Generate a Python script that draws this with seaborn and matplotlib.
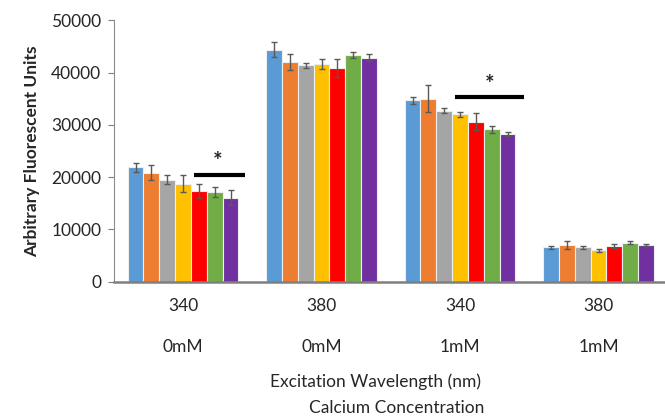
import pandas as pd
import matplotlib
matplotlib.use("Agg")
import matplotlib.pyplot as plt
import seaborn as sns

# categories (excitation wavelength / calcium concentration)
wavelengths = ["340", "380", "340", "380"]
calcium = ["0mM", "0mM", "1mM", "1mM"]
samples = ["S1", "S2", "S3", "S4", "S5", "S6", "S7"]

# mean fluorescence per sample, one list per condition
vals_340_0 = [21900, 20900, 19500, 18750, 17300, 17100, 16050]
vals_380_0 = [44400, 42000, 41450, 41650, 40850, 43450, 42900]
vals_340_1 = [34700, 35050, 32750, 32050, 30650, 29150, 28250]
vals_380_1 = [6550, 7000, 6550, 6000, 6800, 7500, 7050]

err_340_0 = [900, 1500, 850, 1650, 1350, 950, 1450]
err_380_0 = [1400, 1550, 450, 1000, 1750, 600, 650]
err_340_1 = [600, 2600, 550, 500, 1600, 750, 400]
err_380_1 = [250, 800, 250, 300, 400, 350, 150]

palette = ["#5B9BD5", "#ED7D31", "#A5A5A5", "#FFC000", "#FF0000", "#70AD47", "#7030A0"]

all_vals = [vals_340_0, vals_380_0, vals_340_1, vals_380_1]
all_errs = [err_340_0, err_380_0, err_340_1, err_380_1]

rows = []
for i, (v, e) in enumerate(zip(all_vals, all_errs)):
    for s, val, err in zip(samples, v, e):
        rows.append({"cond": i, "sample": s, "value": val, "err": err})
df = pd.DataFrame(rows)

sns.set_style("white")
plt.rcParams["font.family"] = ["Lato", "DejaVu Sans"]
FS = 12.5

fig = plt.figure(figsize=(6.65, 4.17), dpi=100)
ax = fig.add_axes([113.8 / 665, 1 - 281.7 / 417, 554 / 665, (281.7 - 20.5) / 417])

sns.barplot(
    data=df, x="cond", y="value", hue="sample", palette=palette, saturation=1,
    errorbar=None, width=0.8, edgecolor="#eeeeee", linewidth=0.8,
    legend=False, ax=ax,
)

# error bars on each bar, pulled from the drawn patches
bar_groups = list(ax.containers)
for h, cont in enumerate(bar_groups):
    sub = df[df["sample"] == samples[h]].sort_values("cond")
    xs = [p.get_x() + p.get_width() / 2 for p in cont.patches]
    ax.errorbar(xs, sub["value"], yerr=sub["err"], fmt="none",
                ecolor="#595959", elinewidth=1, capsize=2.5, capthick=1, zorder=5)

ax.set_xlim(-0.5, 3.5)
ax.set_ylim(0, 50000)
ax.set_yticks(range(0, 50001, 10000))
ax.tick_params(axis="y", labelsize=FS, length=4, color="#7f7f7f", left=True, pad=5)
ax.tick_params(axis="x", labelsize=FS, length=0, pad=12)
ax.set_xticks(range(4))
ax.set_xticklabels(wavelengths)
for i, c in enumerate(calcium):
    ax.text(i, -0.25, c, transform=ax.get_xaxis_transform(),
            ha="center", va="center", fontsize=FS)

for side in ["top", "right"]:
    ax.spines[side].set_visible(False)
ax.spines["left"].set_color("#8c8c8c")
ax.spines["left"].set_linewidth(0.8)
ax.spines["bottom"].set_color("#7f7f7f")
ax.spines["bottom"].set_linewidth(1.8)

ax.set_xlabel("")
ax.set_ylabel("Arbitrary Fluorescent Units", fontsize=FS, fontweight="bold", labelpad=8)
fig.text(376 / 665, 1 - 382 / 417, "Excitation Wavelength (nm)", ha="center", va="center", fontsize=FS)
fig.text(397 / 665, 1 - 408 / 417, "Calcium Concentration", ha="center", va="center", fontsize=FS)

# significance markers
ax.plot([0.077, 0.445], [20400, 20400], color="black", lw=3, solid_capstyle="butt")
ax.text(0.25, 23000, "*", ha="center", va="center", fontsize=16, fontweight="bold")
ax.plot([1.962, 2.46], [35450, 35450], color="black", lw=3, solid_capstyle="butt")
ax.text(2.214, 37800, "*", ha="center", va="center", fontsize=16, fontweight="bold")

fig.savefig("out.png", dpi=100)
